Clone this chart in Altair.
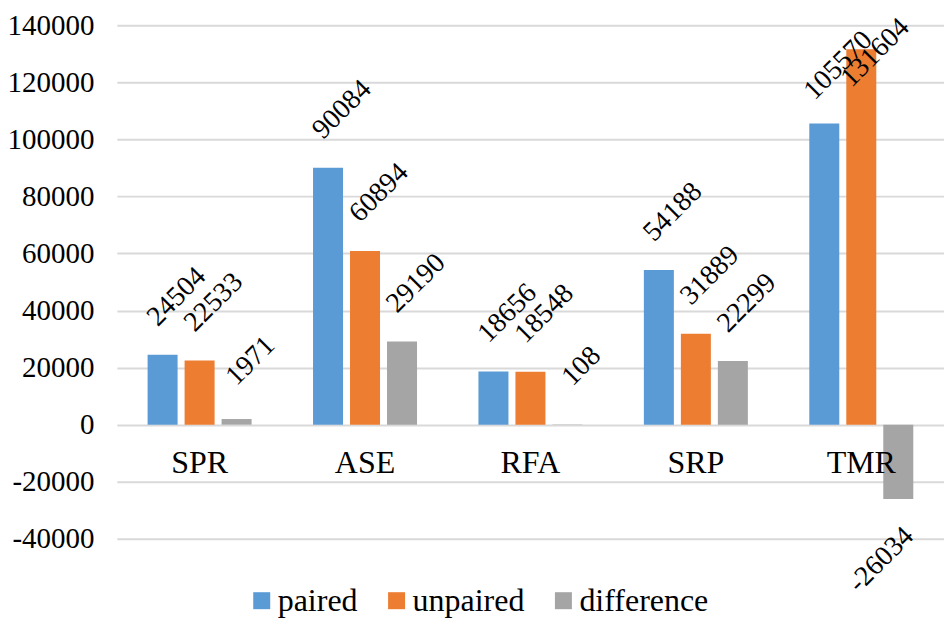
import altair as alt
import pandas as pd

categories = ["SPR", "ASE", "RFA", "SRP", "TMR"]
series = ["paired", "unpaired", "difference"]
paired = [24504, 90084, 18656, 54188, 105570]
unpaired = [22533, 60894, 18548, 31889, 131604]
difference = [1971, 29190, 108, 22299, -26034]
colors = ["#5B9BD5", "#ED7D31", "#A5A5A5"]
y_ticks = [-40000, -20000, 0, 20000, 40000, 60000, 80000, 100000, 120000, 140000]

rows = []
for i, c in enumerate(categories):
    for s, vals in zip(series, [paired, unpaired, difference]):
        rows.append({"category": c, "series": s, "value": vals[i]})
df = pd.DataFrame(rows)

FONT = "'Liberation Serif', 'Times New Roman', 'DejaVu Serif', serif"

x_enc = alt.X("category:N", sort=categories,
              scale=alt.Scale(paddingInner=0, paddingOuter=0),
              axis=alt.Axis(title=None, domain=False, ticks=False, tickSize=0, labelAngle=0,
                            labelFont=FONT, labelFontSize=32, labelColor="#000000",
                            offset=-114, labelBaseline="alphabetic", labelPadding=48,
                            zindex=1))
xo_enc = alt.XOffset("series:N", sort=series,
                     scale=alt.Scale(paddingInner=0.189, paddingOuter=0.83))
y_scale = alt.Scale(domain=[-40000, 140000], nice=False, zero=False)

base = alt.Chart(df).transform_calculate(txt="'' + datum.value")

bars = base.mark_bar(strokeWidth=0).encode(
    x=x_enc,
    xOffset=xo_enc,
    y=alt.Y("value:Q", scale=y_scale,
            axis=alt.Axis(title=None, values=y_ticks, labelExpr="'' + datum.value",
                          domain=False, ticks=False,
                          grid=True, gridColor="#D9D9D9", gridWidth=2,
                          labelFont=FONT, labelFontSize=29, labelColor="#000000",
                          labelPadding=23)),
    color=alt.Color("series:N", sort=series,
                    scale=alt.Scale(domain=series, range=colors),
                    legend=alt.Legend(title=None, orient="none", direction="horizontal",
                                      legendX=129, legendY=560, padding=0,
                                      symbolType="square", symbolSize=289, symbolStrokeWidth=0,
                                      labelFont=FONT, labelFontSize=32, labelColor="#000000",
                                      labelOffset=0, columnPadding=23)),
)

pos_labels = base.transform_filter("datum.value >= 0").transform_calculate(
    lab="min(datum.value, 110000)"
).mark_text(font=FONT, fontSize=28, angle=315, align="center", baseline="middle",
            color="#000000", dx=10, dy=10, yOffset=-58).encode(
    x=alt.X("category:N", sort=categories),
    xOffset=alt.XOffset("series:N", sort=series),
    y=alt.Y("lab:Q", scale=y_scale),
    text=alt.Text("txt:N"),
)

neg_labels = base.transform_filter("datum.value < 0").mark_text(
    font=FONT, fontSize=28, angle=315, align="center", baseline="middle",
    color="#000000", dx=-12, dy=-12, yOffset=61).encode(
    x=alt.X("category:N", sort=categories),
    xOffset=alt.XOffset("series:N", sort=series),
    y=alt.Y("value:Q", scale=y_scale),
    text=alt.Text("txt:N"),
)

chart = alt.layer(bars, pos_labels, neg_labels).properties(
    width=828, height=514,
    autosize=alt.AutoSizeParams(type="none"),
    padding={"left": 109, "top": 17, "right": 0, "bottom": 81},
).configure_view(stroke=None)

chart.save("out.html", embed_options={"renderer": "svg", "actions": False})
